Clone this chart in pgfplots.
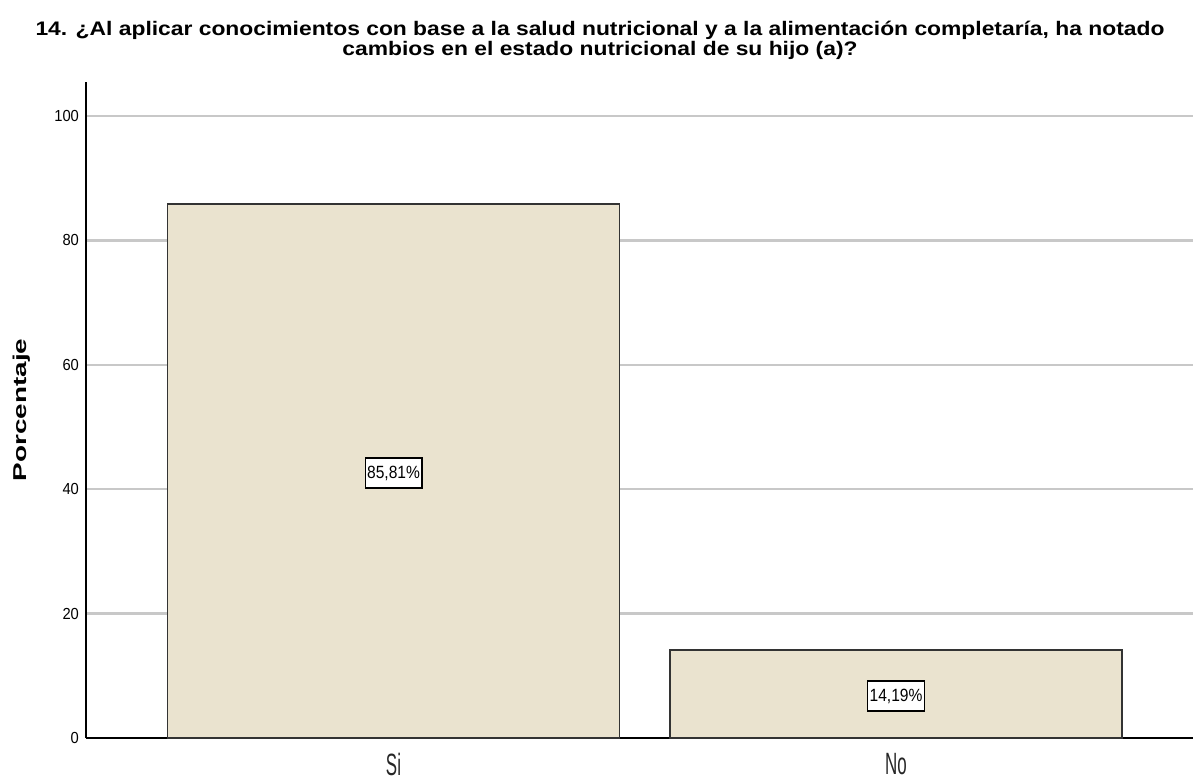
\documentclass[border=0pt]{standalone}
\usepackage{pgfplots}
\pgfplotsset{compat=1.18}
\usepackage{fontspec}
\setmainfont{Liberation Sans}
\newfontfamily\titlefont[FakeStretch=1.165]{Liberation Sans}
\newfontfamily\catfont[FakeStretch=0.55]{Liberation Sans}
\newfontfamily\tickfont[FakeStretch=0.92]{Liberation Sans}
\newfontfamily\labfont[FakeStretch=0.88]{Liberation Sans}
\newfontfamily\ylabfont[FakeStretch=1.5]{Liberation Sans}
\usetikzlibrary{calc}
\definecolor{barfill}{RGB}{234,227,207}
\definecolor{gridc}{RGB}{200,200,200}
\begin{document}
\begin{tikzpicture}
\begin{axis}[
  scale only axis, width=553.5pt, height=328pt,
  xmin=-0.612, xmax=1.591, ymin=0, ymax=105.47,
  axis x line*=bottom, axis y line*=left,
  xtick={0,1}, xticklabels={Si,No},
  ytick={0,20,40,60,80,100},
  /pgf/number format/assume math mode=true,
  ymajorgrids, grid style={gridc, line width=1.2pt},
  major tick length=0pt,
  yticklabel style={font=\tickfont\fontsize{8}{9}\selectfont},
  xticklabel style={font=\catfont\fontsize{15.4}{16}\selectfont, text=black!85, yshift=-4pt},
  ylabel={Porcentaje},
  ylabel style={font=\ylabfont\bfseries\fontsize{9.3}{10}\selectfont, at={(axis description cs:-0.058,0.5)}, anchor=center},
  axis line style={black, line width=0.8pt},
]
\addplot[ybar, bar width=0.9, fill=barfill, draw=black!80, line width=0.8pt] coordinates {(0,85.81) (1,14.19)};
\node[draw=black, fill=white, line width=0.6pt, inner xsep=1pt, minimum height=15pt, font=\labfont\fontsize{8.85}{10}\selectfont] at (axis cs:0,42.6) {85,81\%};
\node[draw=black, fill=white, line width=0.6pt, inner xsep=1pt, minimum height=15pt, font=\labfont\fontsize{8.85}{10}\selectfont] at (axis cs:1,6.75) {14,19\%};
\end{axis}
\node[align=center, font=\titlefont\bfseries\fontsize{9.8}{10}\selectfont] at ($(current axis.north west)+(257pt,21pt)$) {14. ¿Al aplicar conocimientos con base a la salud nutricional y a la alimentación completaría, ha notado\\cambios en el estado nutricional de su hijo (a)?};
\pgfresetboundingbox
\path[use as bounding box] ($(current axis.south west)+(-43pt,-20.5pt)$) rectangle ($(current axis.north east)+(0pt,41pt)$);
\end{tikzpicture}
\end{document}
